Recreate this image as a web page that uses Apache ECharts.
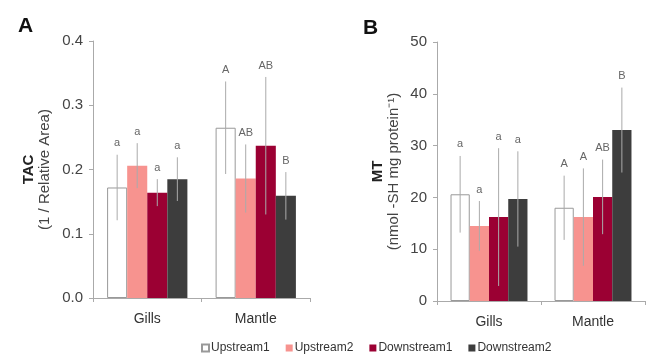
<!DOCTYPE html>
<html>
<head>
<meta charset="utf-8">
<script src="https://cdn.jsdelivr.net/npm/echarts@6/dist/echarts.min.js"></script>
<style>
  html, body { margin: 0; padding: 0; background: #fff; }
  #chart { width: 647px; height: 354px; }
</style>
</head>
<body>
<div id="chart"></div>
<script>
// categories and groups
var categories = ["Gills", "Mantle"];
var groups = ["Upstream1", "Upstream2", "Downstream1", "Downstream2"];
var groupColors = ["#ffffff", "#f7938f", "#9b0033", "#3d3d3d"];

// panel A: TAC, one array per group, [Gills, Mantle]
var tacUpstream1 = [0.172, 0.265];
var tacUpstream2 = [0.206, 0.186];
var tacDownstream1 = [0.164, 0.237];
var tacDownstream2 = [0.185, 0.159];
var tacErrUpstream1 = [0.051, 0.072];
var tacErrUpstream2 = [0.035, 0.053];
var tacErrDownstream1 = [0.021, 0.107];
var tacErrDownstream2 = [0.034, 0.037];
var tacLetters = [["a", "A"], ["a", "AB"], ["a", "AB"], ["a", "B"]];

// panel B: MT
var mtUpstream1 = [20.6, 18.0];
var mtUpstream2 = [14.5, 16.2];
var mtDownstream1 = [16.2, 20.1];
var mtDownstream2 = [19.7, 33.0];
var mtErrUpstream1 = [7.4, 6.2];
var mtErrUpstream2 = [4.8, 9.4];
var mtErrDownstream1 = [13.3, 7.2];
var mtErrDownstream2 = [9.2, 8.2];
var mtLetters = [["a", "A"], ["a", "A"], ["a", "AB"], ["a", "B"]];

var tacTicks = [0, 0.1, 0.2, 0.3, 0.4];
var mtTicks = [0, 10, 20, 30, 40, 50];

var tacMeans = [tacUpstream1, tacUpstream2, tacDownstream1, tacDownstream2];
var tacErrs = [tacErrUpstream1, tacErrUpstream2, tacErrDownstream1, tacErrDownstream2];
var mtMeans = [mtUpstream1, mtUpstream2, mtDownstream1, mtDownstream2];
var mtErrs = [mtErrUpstream1, mtErrUpstream2, mtErrDownstream1, mtErrDownstream2];

var catGap = 0.26;
var font = "Liberation Sans, Arial, sans-serif";

function errData(means, errs) {
  var out = [];
  for (var g = 0; g < means.length; g++) {
    for (var c = 0; c < categories.length; c++) {
      out.push([c, means[g][c], errs[g][c], g]);
    }
  }
  return out;
}

// vertical error line plus the significance letter above it
function makeErrRender(letters) {
  return function (params, api) {
    var c = api.value(0), v = api.value(1), e = api.value(2), g = api.value(3);
    var band = api.size([1, 0])[0];
    var bw = band * (1 - catGap) / 4;
    var x = api.coord([c, v])[0] + (g - 1.5) * bw;
    var top = api.coord([c, v + e])[1];
    var bot = api.coord([c, Math.max(v - e, 0)])[1];
    return {
      type: "group",
      children: [
        {
          type: "line",
          shape: { x1: x, y1: top, x2: x, y2: bot },
          style: { stroke: "#aaaaaa", lineWidth: 1 }
        },
        {
          type: "text",
          style: {
            x: x, y: top - 6,
            text: letters[g][c],
            fill: "#666",
            font: "11px " + font,
            align: "center",
            verticalAlign: "bottom"
          }
        }
      ]
    };
  };
}

function barSeries(means, axisIdx) {
  return means.map(function (vals, g) {
    return {
      name: groups[g],
      type: "bar",
      xAxisIndex: axisIdx,
      yAxisIndex: axisIdx,
      barGap: "0%",
      barCategoryGap: (catGap * 100) + "%",
      data: vals,
      itemStyle: {
        color: groupColors[g],
        borderColor: g === 0 ? "#999" : groupColors[g],
        borderWidth: g === 0 ? 1 : 0
      }
    };
  });
}

function yAxis(idx, ticks, digits, line1, line2, gap) {
  return {
    type: "value",
    gridIndex: idx,
    min: ticks[0],
    max: ticks[ticks.length - 1],
    interval: ticks[1] - ticks[0],
    axisLine: { show: true, lineStyle: { color: "#aaa" } },
    axisTick: { show: true, length: 4, lineStyle: { color: "#aaa" } },
    splitLine: { show: false },
    axisLabel: {
      color: "#444", fontSize: 15, fontFamily: font, margin: 10,
      formatter: function (v) { return v.toFixed(digits); }
    },
    name: "{b|" + line1 + "}\n{n|" + line2 + "}",
    nameLocation: "middle",
    nameRotate: 90,
    nameGap: gap,
    nameTextStyle: {
      rich: {
        b: { fontSize: 15, fontWeight: "bold", color: "#222", fontFamily: font, lineHeight: 16 },
        n: { fontSize: 15, color: "#444", fontFamily: font, lineHeight: 16 }
      }
    }
  };
}

function xAxis(idx) {
  return {
    type: "category",
    gridIndex: idx,
    data: categories,
    axisLine: { lineStyle: { color: "#aaa" } },
    axisTick: { show: true, length: 4, lineStyle: { color: "#aaa" } },
    axisLabel: { color: "#333", fontSize: 14, fontFamily: font, margin: 14 }
  };
}

var chart = echarts.init(document.getElementById("chart"), null, { renderer: "canvas" });

chart.setOption({
  backgroundColor: "#fff",
  animation: false,
  title: [
    { text: "A", left: 13, top: 11, textStyle: { fontSize: 21, fontWeight: "bold", color: "#111", fontFamily: font } },
    { text: "B", left: 358, top: 13, textStyle: { fontSize: 21, fontWeight: "bold", color: "#111", fontFamily: font } }
  ],
  legend: {
    data: groups,
    left: 196,
    top: 337,
    itemWidth: 7,
    itemHeight: 7,
    itemGap: 16,
    icon: "rect",
    textStyle: { fontSize: 12, color: "#333", fontFamily: font, padding: [0, 0, 0, -3] }
  },
  grid: [
    { left: 93, top: 41, width: 217, height: 257 },
    { left: 437, top: 42, width: 208, height: 259 }
  ],
  xAxis: [xAxis(0), xAxis(1)],
  yAxis: [
    yAxis(0, tacTicks, 1, "TAC", "(1 / Relative Area)", 40),
    yAxis(1, mtTicks, 0, "MT", "(nmol -SH mg protein\u207B\u00B9)", 35)
  ],
  series: barSeries(tacMeans, 0).concat(barSeries(mtMeans, 1)).concat([
    {
      type: "custom",
      xAxisIndex: 0, yAxisIndex: 0, z: 10,
      renderItem: makeErrRender(tacLetters),
      data: errData(tacMeans, tacErrs)
    },
    {
      type: "custom",
      xAxisIndex: 1, yAxisIndex: 1, z: 10,
      renderItem: makeErrRender(mtLetters),
      data: errData(mtMeans, mtErrs)
    }
  ])
});
</script>
</body>
</html>
